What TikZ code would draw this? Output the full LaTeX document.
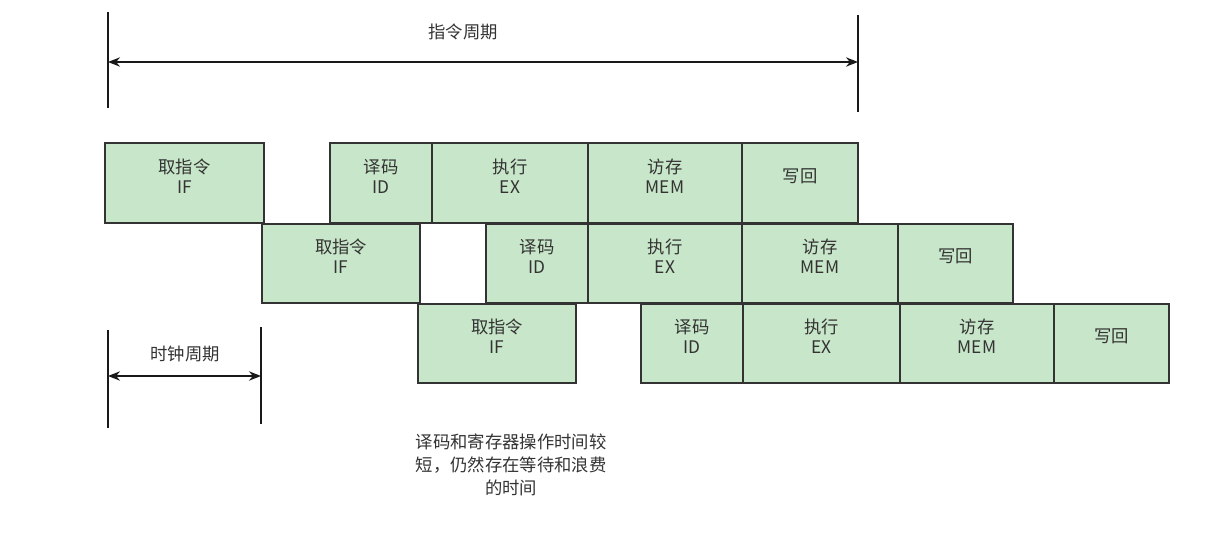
\documentclass[tikz,border=0pt]{standalone}
\usepackage{fontspec}
\setmainfont{Noto Sans CJK SC}
\usetikzlibrary{fit,arrows.meta}
\definecolor{stg}{HTML}{C8E6C9}
\definecolor{edge}{HTML}{333333}
\tikzset{box/.style={draw=edge,fill=stg,line width=1.6pt,inner sep=0pt,align=center,font=\fontsize{13}{15}\selectfont,text=black!80},
dim/.style={line width=1.2pt,draw=black!90},
darr/.style={dim,{Stealth[length=9pt,width=7pt]}-{Stealth[length=9pt,width=7pt]}},
lab/.style={font=\fontsize{13}{15}\selectfont,text=black!80,align=center}}
\newcommand\stg[6]{\coordinate (#1a) at (#2,#3);\coordinate (#1b) at (#4,#5);\node[box,fit=(#1a)(#1b)] (#1) {#6};}
\begin{document}
\begin{tikzpicture}[x=0.75pt,y=-0.75pt]
\useasboundingbox (0,0) rectangle (1225,535);
\stg{a1}{105}{143}{264}{223}{取指令\\IF}
\stg{a2}{330}{143}{432}{223}{译码\\ID}
\stg{a3}{432}{143}{588}{223}{执行\\EX}
\stg{a4}{588}{143}{742}{223}{访存\\MEM}
\stg{a5}{742}{143}{858}{223}{写回}
\stg{b1}{262}{224}{420}{303}{取指令\\IF}
\stg{b2}{486}{224}{588}{303}{译码\\ID}
\stg{b3}{588}{224}{742}{303}{执行\\EX}
\stg{b4}{742}{224}{898}{303}{访存\\MEM}
\stg{b5}{898}{224}{1013}{303}{写回}
\stg{c1}{418}{304}{576}{383}{取指令\\IF}
\stg{c2}{641}{304}{743}{383}{译码\\ID}
\stg{c3}{743}{304}{900}{383}{执行\\EX}
\stg{c4}{900}{304}{1054}{383}{访存\\MEM}
\stg{c5}{1054}{304}{1169}{383}{写回}
% instruction cycle
\coordinate (t1) at (108,12); \coordinate (t2) at (108,108);
\coordinate (t3) at (858,15); \coordinate (t4) at (858,112);
\draw[dim] (t1) -- (t2); \draw[dim] (t3) -- (t4);
\coordinate (ta) at (108,62); \coordinate (tb) at (858,62);
\draw[darr] (ta) -- (tb);
\node[lab] (tl) at (463,32) {指令周期};
% clock cycle
\coordinate (k1) at (108,330); \coordinate (k2) at (108,428);
\coordinate (k3) at (261,327); \coordinate (k4) at (261,424);
\draw[dim] (k1) -- (k2); \draw[dim] (k3) -- (k4);
\coordinate (ka) at (108,376); \coordinate (kb) at (261,376);
\draw[darr] (ka) -- (kb);
\node[lab] (kl) at (185,354) {时钟周期};
\node[lab,font=\fontsize{13}{17}\selectfont] (note) at (511,465) {译码和寄存器操作时间较\\短，仍然存在等待和浪费\\的时间};
\end{tikzpicture}
\end{document}
